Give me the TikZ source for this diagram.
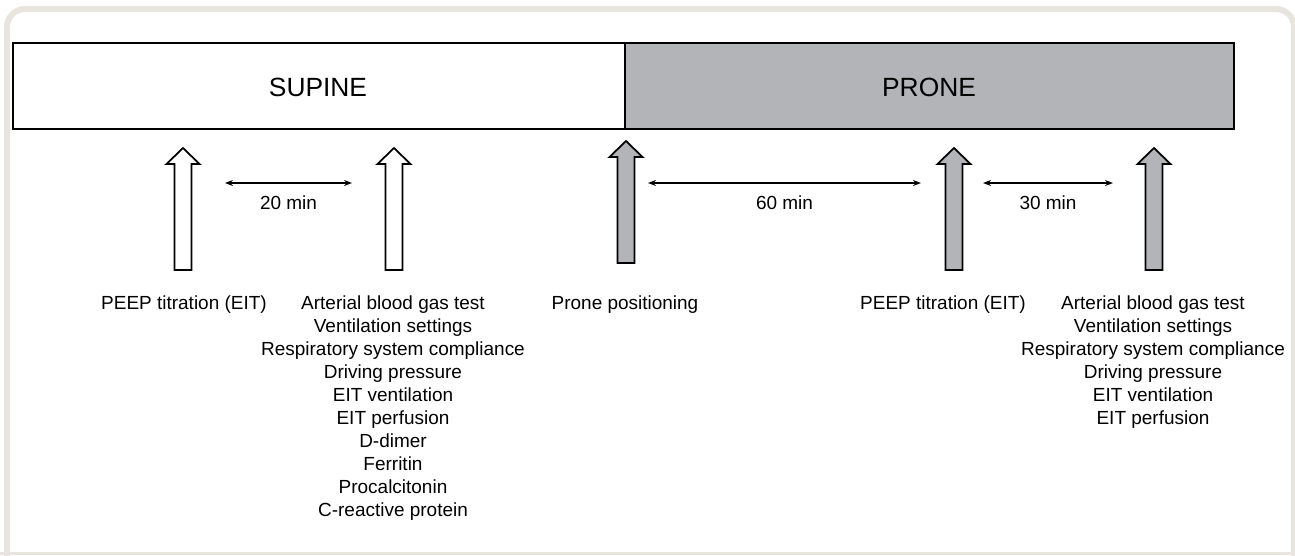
\documentclass[tikz,border=0pt]{standalone}
\usepackage{fontspec}
\setmainfont{Liberation Sans}
\usepackage{tikz}
\usetikzlibrary{arrows.meta}
\definecolor{pronegray}{RGB}{179,180,183}
\definecolor{framegray}{RGB}{232,229,222}
\tikzset{
    uparrow/.pic={\path[draw,line width=1pt,pic actions]
        (-0.17,0) -- (-0.17,2.12) -- (-0.33,2.12) -- (0,2.44)
        -- (0.33,2.12) -- (0.17,2.12) -- (0.17,0) -- cycle;},
    steplist/.style={anchor=north,align=center,inner sep=0pt,
        font=\fontsize{10.8}{13.1}\selectfont},
    timespan/.style={{Stealth[length=1.6mm,width=1.2mm]}-{Stealth[length=1.6mm,width=1.2mm]},
        line width=0.8pt}
}

\begin{document}
\begin{tikzpicture}
    \useasboundingbox (0,0) rectangle (25.9,-11.1);
    \clip (0,0) rectangle (25.9,-11.1);
    % outer frame
    \path[draw,framegray,line width=0.12cm,rounded corners=0.36cm]
        (0.14,-11.6) -- (0.14,-0.18) -- (25.88,-0.18) -- (25.88,-11.6);
    \path[draw,framegray,line width=0.05cm]
        (0,-11.07) -- (25.9,-11.07);
    % phases
    \path[draw,line width=1.1pt]
        (0.26,-0.86) rectangle (12.5,-2.58);
    \filldraw[line width=1.1pt,fill=pronegray]
        (12.5,-0.86) rectangle (24.68,-2.58);
    \node[font=\fontsize{15}{18}\selectfont] (supine)
        at (6.36,-1.74) {SUPINE};
    \node[font=\fontsize{15}{18}\selectfont] (prone)
        at (18.58,-1.74) {PRONE};
    % time points
    \coordinate (peepA) at (3.66,-5.40);
    \coordinate (gasA) at (7.88,-5.40);
    \coordinate (turn) at (12.52,-5.26);
    \coordinate (peepB) at (19.08,-5.40);
    \coordinate (gasB) at (23.08,-5.40);
    \pic[fill=white] at (peepA) {uparrow};
    \pic[fill=white] at (gasA) {uparrow};
    \pic[fill=pronegray] at (turn) {uparrow};
    \pic[fill=pronegray] at (peepB) {uparrow};
    \pic[fill=pronegray] at (gasB) {uparrow};
    % intervals
    \coordinate (min20a) at (4.50,-3.66);
    \coordinate (min20b) at (7.04,-3.66);
    \coordinate (min60a) at (12.96,-3.66);
    \coordinate (min60b) at (18.42,-3.66);
    \coordinate (min30a) at (19.66,-3.66);
    \coordinate (min30b) at (22.26,-3.66);
    \draw[timespan] (min20a) -- (min20b)
        node[midway,below=0.24cm,inner sep=0pt,font=\fontsize{10.8}{13}\selectfont] (lab20) {20 min};
    \draw[timespan] (min60a) -- (min60b)
        node[midway,below=0.24cm,inner sep=0pt,font=\fontsize{10.8}{13}\selectfont] (lab60) {60 min};
    \draw[timespan] (min30a) -- (min30b)
        node[midway,below=0.24cm,inner sep=0pt,font=\fontsize{10.8}{13}\selectfont] (lab30) {30 min};
    % measurements
    \node[steplist] (listA) at (3.68,-5.9) {PEEP titration (EIT)};
    \node[steplist] (listB) at (7.86,-5.9)
        {Arterial blood gas test\\Ventilation settings\\Respiratory system compliance\\
         Driving pressure\\EIT ventilation\\EIT perfusion\\D-dimer\\Ferritin\\
         Procalcitonin\\C-reactive protein};
    \node[steplist] (listC) at (12.5,-5.9) {Prone positioning};
    \node[steplist] (listD) at (18.86,-5.9) {PEEP titration (EIT)};
    \node[steplist] (listE) at (23.06,-5.9)
        {Arterial blood gas test\\Ventilation settings\\Respiratory system compliance\\
         Driving pressure\\EIT ventilation\\EIT perfusion};
\end{tikzpicture}
\end{document}
